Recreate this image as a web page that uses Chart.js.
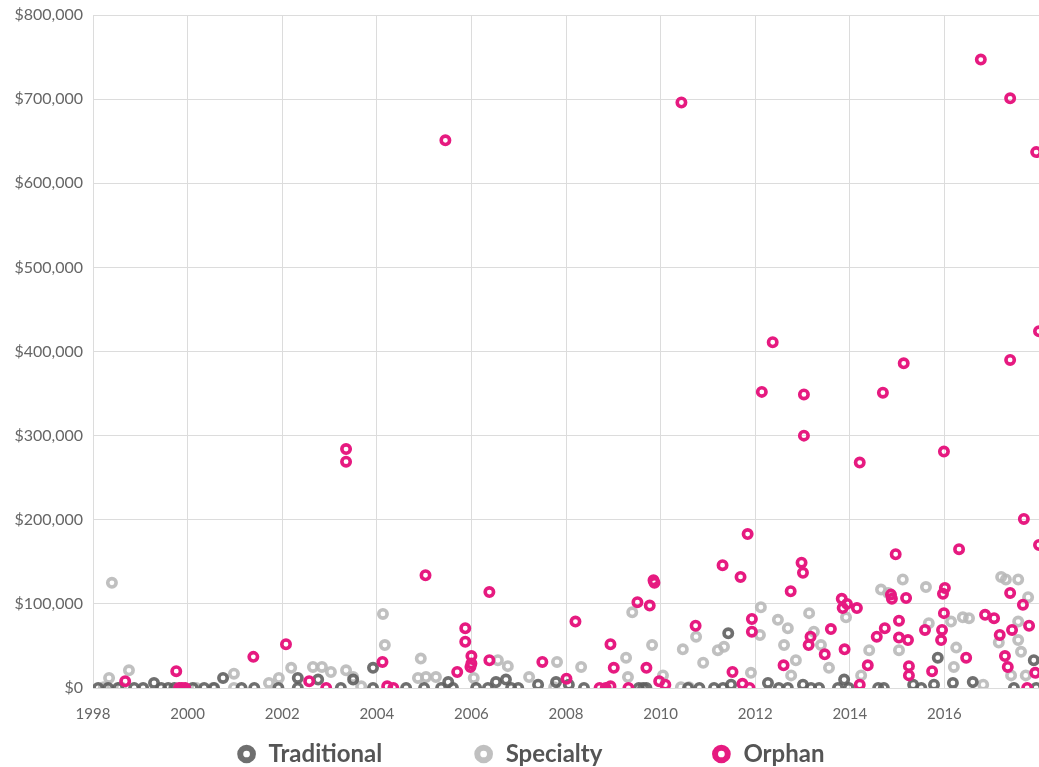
<!DOCTYPE html>
<html>
<head>
<meta charset="utf-8">
<script src="https://cdn.jsdelivr.net/npm/chart.js@4"></script>
<style>
  body { margin: 0; background: #fff; }
</style>
</head>
<body>
<canvas id="chart" width="1039" height="767"></canvas>
<script>
// series names
const series_names = ["Traditional", "Specialty", "Orphan"];

// traditional: [year, value]
const traditional_pts = [
  [1998.11, 0], [1998.32, 0], [1998.53, 0], [1998.87, 0], [1999.06, 0], [1999.29, 6000],
  [1999.44, 0], [1999.59, 0], [1999.72, 0], [2000.11, 0], [2000.35, 0], [2000.56, 0],
  [2000.75, 12000], [2001.14, 0], [2001.41, 0], [2001.92, 0], [2002.33, 0], [2002.33, 12000],
  [2002.76, 10000], [2003.24, 0], [2003.5, 10000], [2003.92, 0], [2003.92, 24000], [2004.62, 0],
  [2005.0, 0], [2005.36, 0], [2005.51, 7000], [2005.61, 0], [2006.1, 0], [2006.35, 0],
  [2006.52, 7000], [2006.73, 10000], [2006.84, 0], [2006.99, 0], [2007.41, 4000], [2007.79, 7000],
  [2008.06, 4000], [2008.38, 0], [2009.54, 0], [2009.63, 0], [2009.7, 0], [2010.58, 0],
  [2010.82, 0], [2011.13, 0], [2011.32, 0], [2011.49, 4000], [2011.43, 65000], [2012.27, 6000],
  [2012.5, 0], [2012.69, 0], [2013.01, 4000], [2013.18, 0], [2013.35, 0], [2013.75, 0],
  [2013.88, 10000], [2013.98, 0], [2014.6, 0], [2014.72, 0], [2015.34, 4000], [2015.51, 0],
  [2015.78, 4000], [2015.86, 36000], [2016.18, 6000], [2016.6, 7000], [2017.47, 0], [2017.89, 33000],
  [2017.94, 0]
];

// specialty
const specialty_pts = [
  [1998.23, 1000], [1998.34, 12000], [1998.4, 125000], [1998.59, 1000], [1998.76, 21000], [2000.18, 0],
  [2000.54, 0], [2000.98, 17000], [2000.98, 0], [2001.72, 6000], [2001.93, 12000], [2002.19, 24000],
  [2002.65, 25000], [2002.84, 25000], [2003.03, 19000], [2003.35, 21000], [2003.5, 13000], [2003.67, 2000],
  [2004.13, 88000], [2004.17, 51000], [2004.87, 12000], [2004.93, 35000], [2005.04, 13000], [2005.25, 13000],
  [2006.05, 12000], [2006.56, 33000], [2006.77, 26000], [2007.22, 13000], [2007.75, 1000], [2007.81, 31000],
  [2008.32, 25000], [2009.27, 36000], [2009.31, 13000], [2009.4, 90000], [2009.82, 51000], [2010.05, 15000],
  [2010.43, 1000], [2010.47, 46000], [2010.6, 1000], [2010.75, 61000], [2010.9, 30000], [2011.21, 45000],
  [2011.34, 49000], [2011.91, 18000], [2012.1, 63000], [2012.12, 96000], [2012.48, 81000], [2012.61, 51000],
  [2012.69, 71000], [2012.76, 15000], [2012.86, 33000], [2013.14, 89000], [2013.24, 67000], [2013.39, 51000],
  [2013.56, 24000], [2013.92, 84000], [2014.24, 15000], [2014.41, 45000], [2014.66, 117000], [2014.81, 113000],
  [2015.04, 45000], [2015.12, 129000], [2015.61, 120000], [2015.67, 77000], [2016.14, 79000], [2016.2, 25000],
  [2016.25, 48000], [2016.39, 84000], [2016.52, 83000], [2016.82, 4000], [2017.15, 54000], [2017.2, 132000],
  [2017.3, 129000], [2017.41, 15000], [2017.56, 129000], [2017.56, 79000], [2017.56, 57000], [2017.62, 43000],
  [2017.72, 15000], [2017.77, 108000]
];

// orphan
const orphan_pts = [
  [1998.68, 8000], [1999.76, 20000], [1999.82, 0], [1999.88, 0], [1999.95, 0], [2001.39, 37000],
  [2002.08, 52000], [2002.57, 8000], [2002.93, 0], [2003.35, 284000], [2003.35, 269000], [2004.12, 31000],
  [2004.22, 2000], [2004.35, 0], [2005.03, 134000], [2005.45, 651000], [2005.7, 19000], [2005.87, 71000],
  [2005.87, 55000], [2006.0, 38000], [2006.0, 29000], [2005.98, 25000], [2006.38, 114000], [2006.38, 33000],
  [2007.5, 31000], [2008.01, 11000], [2008.2, 79000], [2008.71, 0], [2008.84, 0], [2008.94, 2000],
  [2008.94, 52000], [2009.01, 24000], [2009.32, 0], [2009.51, 102000], [2009.7, 24000], [2009.77, 98000],
  [2009.85, 128000], [2009.87, 125000], [2009.97, 8000], [2010.1, 4000], [2010.44, 696000], [2010.74, 74000],
  [2011.31, 146000], [2011.52, 19000], [2011.69, 132000], [2011.73, 5000], [2011.84, 183000], [2011.88, 0],
  [2011.93, 82000], [2011.93, 67000], [2012.14, 352000], [2012.37, 411000], [2012.6, 27000], [2012.75, 115000],
  [2013.03, 349000], [2013.03, 300000], [2012.98, 149000], [2013.01, 137000], [2013.17, 61000], [2013.13, 51000],
  [2013.47, 40000], [2013.6, 70000], [2013.83, 106000], [2013.94, 100000], [2013.85, 95000], [2014.15, 95000],
  [2013.89, 46000], [2014.21, 268000], [2014.21, 4000], [2014.38, 27000], [2014.57, 61000], [2014.7, 351000],
  [2014.74, 71000], [2014.87, 111000], [2014.89, 106000], [2014.97, 159000], [2015.04, 80000], [2015.04, 60000],
  [2015.14, 386000], [2015.19, 107000], [2015.23, 57000], [2015.25, 26000], [2015.25, 15000], [2015.59, 69000],
  [2015.74, 20000], [2015.93, 57000], [2015.95, 69000], [2015.99, 89000], [2015.97, 112000], [2016.01, 119000],
  [2015.99, 281000], [2016.31, 165000], [2016.46, 36000], [2016.77, 747000], [2016.86, 87000], [2017.05, 83000],
  [2017.17, 63000], [2017.43, 69000], [2017.39, 701000], [2017.39, 390000], [2017.39, 113000], [2017.28, 38000],
  [2017.34, 25000], [2017.66, 99000], [2017.68, 201000], [2017.79, 74000], [2017.75, 0], [2017.92, 18000],
  [2017.94, 637000], [2018.0, 424000], [2018.0, 170000]
];

// axis ticks
const x_ticks = [1998, 2000, 2002, 2004, 2006, 2008, 2010, 2012, 2014, 2016];
const y_ticks = [0, 100000, 200000, 300000, 400000, 500000, 600000, 700000, 800000];

const colors = ["rgba(95,95,95,0.9)", "rgba(185,185,185,0.9)", "#e61a80"];
const legend_font = "bold 24px Lato";

function toXY(list) {
  return list.map(function (p) { return { x: p[0], y: p[1] }; });
}

// pad legend text with spaces so the items sit at a fixed spacing
const measure_ctx = document.createElement("canvas").getContext("2d");
function padText(txt, width) {
  measure_ctx.font = legend_font;
  let out = txt;
  while (measure_ctx.measureText(out + " ").width <= width) out += " ";
  return out;
}

const all_pts = [traditional_pts, specialty_pts, orphan_pts];
const draw_order = [1, 2, 0]; // orphan drawn on top

const datasets = series_names.map(function (name, i) {
  return {
    label: name,
    data: toXY(all_pts[i]),
    borderColor: colors[i],
    backgroundColor: "rgba(0,0,0,0)",
    pointRadius: 4.2,
    pointBorderWidth: 3.6,
    pointHoverRadius: 4.2,
    order: draw_order[i],
  };
});

// nudge the legend a bit to the right like the original
const legendShift = {
  id: "legendShift",
  afterLayout: function (chart) {
    if (chart.legend) chart.legend.left = 22;
  },
};

Chart.defaults.font.family = "Lato, 'Open Sans', sans-serif";
Chart.defaults.color = "#666";

new Chart(document.getElementById("chart"), {
  type: "scatter",
  data: { datasets: datasets },
  plugins: [legendShift],
  options: {
    responsive: false,
    animation: false,
    layout: { autoPadding: false, padding: { top: 15, right: 0, left: 0, bottom: -9 } },
    scales: {
      x: {
        type: "linear",
        min: x_ticks[0],
        max: 2018,
        afterBuildTicks: function (axis) {
          axis.ticks = x_ticks.concat([2018]).map(function (v) { return { value: v }; });
        },
        afterFit: function (axis) {
          axis.height = 50;
          axis.paddingLeft = 0;
          axis.paddingRight = 0;
        },
        ticks: {
          font: { size: 15 },
          color: "#666",
          padding: 17,
          maxRotation: 0,
          callback: function (v) { return x_ticks.indexOf(v) >= 0 ? String(v) : ""; },
        },
        grid: { color: "#dcdcdc", drawTicks: false },
        border: { display: false },
      },
      y: {
        min: 0,
        max: y_ticks[y_ticks.length - 1],
        afterBuildTicks: function (axis) {
          axis.ticks = y_ticks.map(function (v) { return { value: v }; });
        },
        afterFit: function (axis) {
          axis.width = 93;
          axis.paddingTop = 0;
          axis.paddingBottom = 0;
        },
        ticks: {
          font: { size: 16 },
          color: "#666",
          padding: 10,
          callback: function (v) { return "$" + v.toLocaleString("en-US"); },
        },
        grid: { color: "#dcdcdc", drawTicks: false },
        border: { display: false },
      },
    },
    plugins: {
      tooltip: { enabled: false },
      legend: {
        position: "bottom",
        labels: {
          usePointStyle: true,
          pointStyle: "circle",
          boxWidth: 20,
          boxHeight: 9,
          padding: 4,
          color: "#555",
          font: { size: 24, weight: "bold" },
          sort: function (a, b) { return a.datasetIndex - b.datasetIndex; },
          generateLabels: function (chart) {
            const items = Chart.defaults.plugins.legend.labels.generateLabels(chart);
            items.forEach(function (it) {
              it.lineWidth = 6;
              it.fillStyle = "#fff";
              it.strokeStyle = colors[it.datasetIndex];
              if (it.datasetIndex < 2) it.text = padText(it.text, 204);
            });
            return items;
          },
        },
      },
    },
  },
});
</script>
</body>
</html>
